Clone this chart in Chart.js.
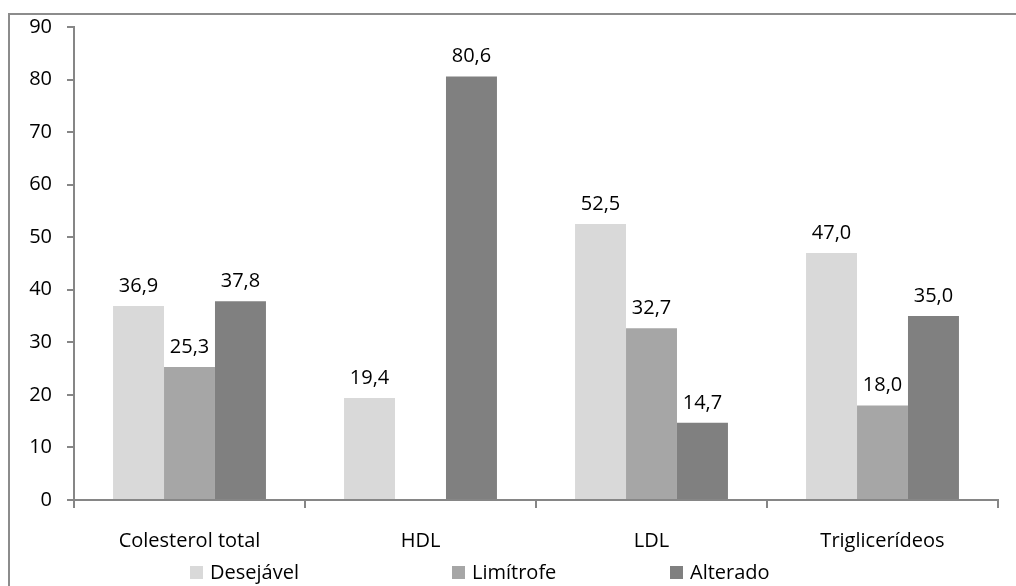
<!DOCTYPE html>
<html lang="pt">
<head>
    <meta charset="UTF-8">
    <title>Perfil lipídico</title>
    <style>
        body { margin: 0; background: #fff; overflow: hidden; font-family: 'Open Sans', sans-serif; }
        .frame { position: absolute; left: 8px; top: 13px; width: 1100px; height: 700px; border: 2px solid #8c8c8c; }
        .wrap { position: absolute; left: 0; top: 0; width: 1016px; height: 586px; }
        #legenda { position: absolute; left: 190px; top: 559px; display: flex; font-size: 20px; line-height: 26px; color: #000; }
        #legenda .item { display: flex; align-items: center; }
        #legenda .item:nth-child(1) { width: 262px; }
        #legenda .item:nth-child(2) { width: 218px; }
        #legenda .caixa { width: 13px; height: 13px; margin-right: 7px; }
    </style>
</head>
<body>
<div class="frame"></div>
<div class="wrap"><canvas id="grafico"></canvas></div>
<div id="legenda"></div>

<script src="https://cdn.jsdelivr.net/npm/chart.js"></script>
<script>
    // dados
    const categorias = ['Colesterol total', 'HDL', 'LDL', 'Triglicerídeos'];
    const series = ['Desejável', 'Limítrofe', 'Alterado'];
    const cores = ['#d9d9d9', '#a6a6a6', '#808080'];
    const desejavel = [36.9, 19.4, 52.5, 47.0];
    const limitrofe = [25.3, null, 32.7, 18.0];
    const alterado = [37.8, 80.6, 14.7, 35.0];
    const ticksY = [0, 10, 20, 30, 40, 50, 60, 70, 80, 90];

    const fonte = "'Open Sans', sans-serif";
    const corEixo = '#868686';

    // rótulos de valor em cima das barras
    const rotulos = {
        id: 'rotulos',
        afterDatasetsDraw(chart) {
            const ctx = chart.ctx;
            ctx.save();
            ctx.font = '20px ' + fonte;
            ctx.fillStyle = '#000';
            ctx.textAlign = 'center';
            ctx.textBaseline = 'alphabetic';
            chart.data.datasets.forEach((ds, i) => {
                chart.getDatasetMeta(i).data.forEach((bar, j) => {
                    const v = ds.data[j];
                    if (v === null) return;
                    ctx.fillText(v.toFixed(1).replace('.', ','), bar.x, bar.y - 14);
                });
            });
            ctx.restore();
        }
    };

    const valores = [desejavel, limitrofe, alterado];
    const ctx = document.getElementById('grafico').getContext('2d');
    const grafico = new Chart(ctx, {
        type: 'bar',
        data: {
            labels: categorias,
            datasets: series.map((nome, i) => ({ label: nome, data: valores[i], backgroundColor: cores[i] }))
        },
        options: {
            responsive: true,
            maintainAspectRatio: false,
            animation: false,
            categoryPercentage: 0.662,
            barPercentage: 1,
            layout: { padding: { left: 0, right: 18, top: 22, bottom: 28 } },
            plugins: {
                legend: { display: false },
                tooltip: { enabled: false }
            },
            scales: {
                x: {
                    grid: { drawOnChartArea: false, drawTicks: true, tickLength: 8, color: corEixo, lineWidth: 2 },
                    border: { color: corEixo, width: 2 },
                    ticks: { font: { family: fonte, size: 20 }, color: '#000', padding: 21, maxRotation: 0 },
                    afterFit(scale) { scale.height = 58; }
                },
                y: {
                    min: 0,
                    max: 90,
                    afterBuildTicks(scale) { scale.ticks = ticksY.map(v => ({ value: v })); },
                    grid: { drawOnChartArea: false, drawTicks: true, tickLength: 7, color: corEixo, lineWidth: 2 },
                    border: { color: corEixo, width: 2 },
                    ticks: { font: { family: fonte, size: 20 }, color: '#000', padding: 15 },
                    afterFit(scale) { scale.width = 74; }
                }
            }
        },
        plugins: [rotulos]
    });

    // legenda em HTML, montada a partir dos datasets
    const legenda = document.getElementById('legenda');
    grafico.data.datasets.forEach(ds => {
        const item = document.createElement('div');
        item.className = 'item';
        item.innerHTML = '<span class="caixa" style="background:' + ds.backgroundColor + '"></span>' + ds.label;
        legenda.appendChild(item);
    });
</script>
</body>
</html>
